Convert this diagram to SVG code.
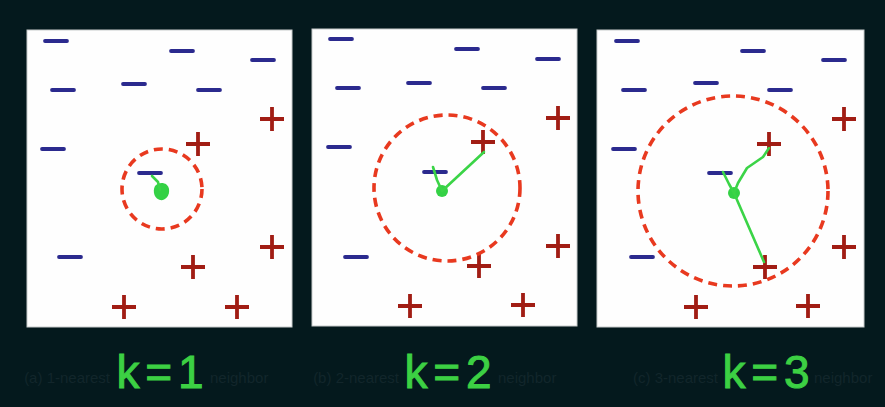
<svg xmlns="http://www.w3.org/2000/svg" xmlns:xlink="http://www.w3.org/1999/xlink" width="885" height="407" viewBox="0 0 885 407">
<style>
.panel{fill:#fefefe;stroke:#c8cccc;stroke-width:1}
.neg{stroke:#2b2a8e;stroke-width:3.8;stroke-linecap:round;fill:none}
.pos{stroke:#a11d14;stroke-width:3.8;stroke-linecap:butt;fill:none}
.ring{fill:none;stroke:#e8391f;stroke-width:3.6;stroke-dasharray:9 6}
.link{fill:none;stroke:#3bd447;stroke-width:2.6;stroke-linecap:round;stroke-linejoin:round}
.dot{fill:#34d145}
.lbl{font-family:"Liberation Sans","DejaVu Sans",sans-serif;font-size:46px;fill:#3cd043;stroke:#3cd043;stroke-width:1;word-spacing:-7px;text-anchor:middle}
.capl{font-family:"Liberation Sans","DejaVu Sans",sans-serif;font-size:15px;fill:#12262b;text-anchor:end}
.capr{font-family:"Liberation Sans","DejaVu Sans",sans-serif;font-size:15px;fill:#12262b;text-anchor:start}
</style>
<defs>
<path id="minus" class="neg" d="M-11 0H11"/>
<path id="plus" class="pos" d="M-12 0H12M0-12V12"/>
</defs>
<rect width="885" height="407" fill="#04191d"/>

<g id="panel1">
<rect class="panel" x="27" y="30" width="265" height="297"/>
<use href="#minus" x="56" y="41"/>
<use href="#minus" x="182" y="51"/>
<use href="#minus" x="263" y="60"/>
<use href="#minus" x="63" y="90"/>
<use href="#minus" x="134" y="84"/>
<use href="#minus" x="209" y="90"/>
<use href="#minus" x="53" y="149"/>
<use href="#minus" x="150" y="173"/>
<use href="#minus" x="70" y="257"/>
<use href="#plus" x="272" y="119"/>
<use href="#plus" x="198" y="144"/>
<use href="#plus" x="272" y="247"/>
<use href="#plus" x="193" y="267"/>
<use href="#plus" x="124" y="307"/>
<use href="#plus" x="237" y="307"/>
<circle class="ring" cx="162" cy="189" r="40"/>
<path class="dot" d="M155 186c4-5 13-4 14 3c1 7-4 12-9 11c-5-1-8-8-5-14z"/>
<text class="capl" x="110" y="383">(a) 1-nearest</text>
<text class="capr" x="210" y="383">neighbor</text>
<text class="lbl" x="160" y="388">k = 1</text>
</g>

<g id="panel2">
<rect class="panel" x="312" y="29" width="265" height="297"/>
<use href="#minus" x="341" y="39"/>
<use href="#minus" x="467" y="49"/>
<use href="#minus" x="548" y="59"/>
<use href="#minus" x="348" y="88"/>
<use href="#minus" x="419" y="83"/>
<use href="#minus" x="494" y="88"/>
<use href="#minus" x="339" y="147"/>
<use href="#minus" x="435" y="172"/>
<use href="#minus" x="356" y="257"/>
<use href="#plus" x="558" y="118"/>
<use href="#plus" x="483" y="142"/>
<use href="#plus" x="558" y="246"/>
<use href="#plus" x="479" y="266"/>
<use href="#plus" x="410" y="306"/>
<use href="#plus" x="523" y="305"/>
<circle class="ring" cx="447" cy="188" r="73"/>
<circle class="dot" cx="442" cy="191" r="6"/>
<text class="capl" x="399" y="383">(b) 2-nearest</text>
<text class="capr" x="498" y="383">neighbor</text>
<text class="lbl" x="448" y="388">k = 2</text>
</g>

<g id="panel3">
<rect class="panel" x="597" y="30" width="267" height="297"/>
<use href="#minus" x="627" y="41"/>
<use href="#minus" x="753" y="51"/>
<use href="#minus" x="834" y="60"/>
<use href="#minus" x="634" y="90"/>
<use href="#minus" x="706" y="83"/>
<use href="#minus" x="780" y="90"/>
<use href="#minus" x="624" y="149"/>
<use href="#minus" x="720" y="173"/>
<use href="#minus" x="642" y="257"/>
<use href="#plus" x="844" y="119"/>
<use href="#plus" x="769" y="144"/>
<use href="#plus" x="844" y="247"/>
<use href="#plus" x="765" y="267"/>
<use href="#plus" x="696" y="307"/>
<use href="#plus" x="808" y="306"/>
<circle class="ring" cx="733" cy="191" r="95"/>
<circle class="dot" cx="734" cy="193" r="6"/>
<text class="capl" x="718" y="383">(c) 3-nearest</text>
<text class="capr" x="814" y="383">neighbor</text>
<text class="lbl" x="766" y="388">k = 3</text>
</g>

<g id="connectors">
<path class="link" d="M152 176L158 182L160 190"/>
<path class="link" d="M433 167L437 180L442 191L484 152"/>
<path class="link" d="M723 172L729 184L734 193"/>
<path class="link" d="M734 193L738 183L747 168L763 157L769 148"/>
<path class="link" d="M734 193L764 262"/>
</g>
</svg>
